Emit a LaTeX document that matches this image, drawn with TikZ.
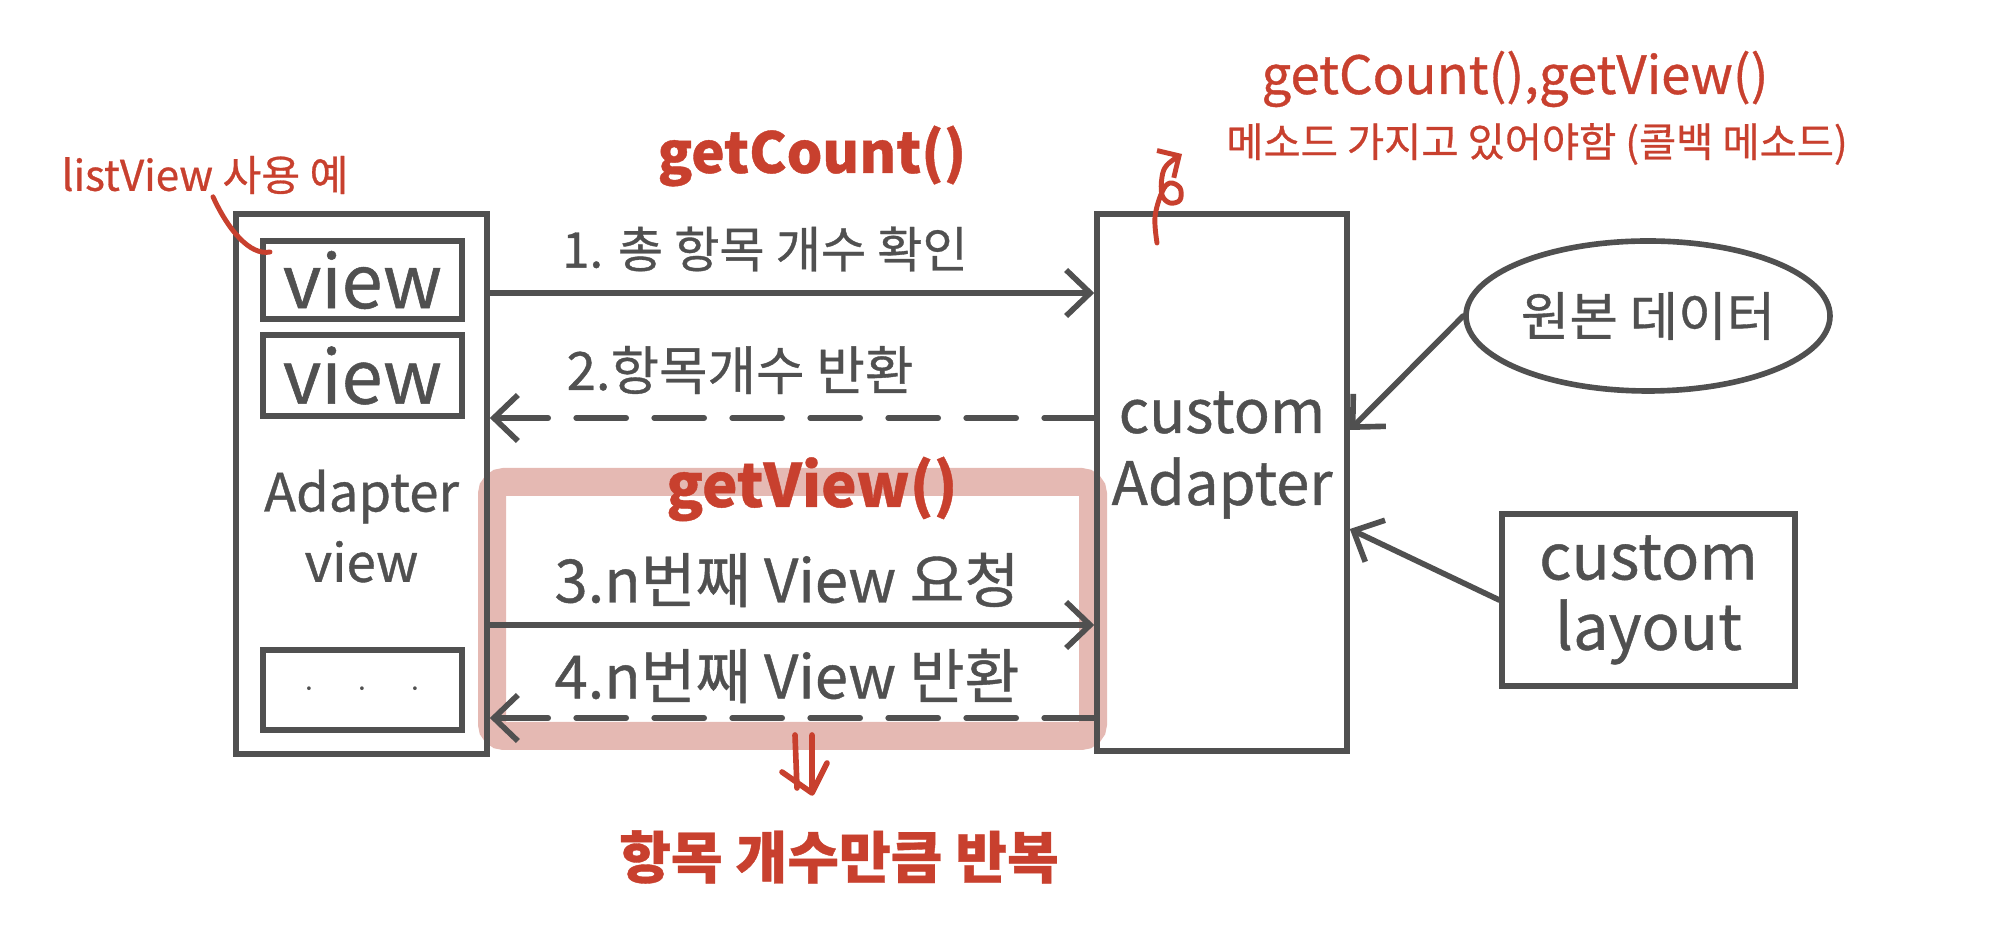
\documentclass[tikz,border=0pt]{standalone}
\usepackage{fontspec}
\setmainfont{Noto Sans CJK KR}[FakeBold=0.7]
\usetikzlibrary{arrows.meta,positioning,calc,shapes.geometric}
\definecolor{ink}{HTML}{505050}
\definecolor{pen}{HTML}{C8402E}
\definecolor{hlpink}{HTML}{E5B9B3}

\begin{document}
\begin{tikzpicture}[
    box/.style={rectangle, draw=ink, line width=1.6pt, inner sep=0pt, text=ink},
    txt/.style={text=ink, align=center, inner sep=0pt},
    memo/.style={text=pen, align=center, inner sep=0pt},
    arrow/.style={-{Straight Barb[length=2.4mm,width=4.6mm]}, draw=ink, line width=1.6pt, line cap=round},
    back/.style={arrow, dash pattern=on 5mm off 2.8mm},
    note/.style={draw=pen, line width=1.4pt, line cap=round, line join=round}
]
    \useasboundingbox (0,0) rectangle (20,-9.48);
    % repeated part
    \draw[hlpink, line width=0.28cm, rounded corners=0.12cm] (4.92,-4.82) rectangle (10.93,-7.36);

    % adapter view with its items
    \node[box, minimum width=2.51cm, minimum height=5.40cm] (adview) at (3.615,-4.84) {};
    \node[box, minimum width=1.99cm, minimum height=0.78cm, font=\fontsize{21}{24}\selectfont] (view1) at (3.625,-2.80) {view};
    \node[box, minimum width=1.99cm, minimum height=0.81cm, font=\fontsize{21}{24}\selectfont] (view2) at (3.625,-3.755) {view};
    \node[box, minimum width=1.99cm, minimum height=0.80cm] (more) at (3.625,-6.90) {$\cdot\quad\cdot\quad\cdot$};
    \node[txt, font=\fontsize{15}{20}\selectfont] (adlabel) at (3.615,-5.26) {Adapter\\view};

    % custom adapter and its sources
    \node[box, minimum width=2.50cm, minimum height=5.37cm] (adapter) at (12.22,-4.825) {};
    \node[txt, font=\fontsize{17}{20.5}\selectfont] (adtext) at (12.22,-4.55) {custom\\Adapter};
    \node[box, ellipse, minimum width=3.64cm, minimum height=1.50cm, font=\fontsize{15}{18}\selectfont] (data) at (16.48,-3.16) {원본 데이터};
    \node[box, minimum width=2.93cm, minimum height=1.72cm, align=center, font=\fontsize{18}{20}\selectfont] (layout) at (16.485,-6.00) {custom\\layout};

    % calls between the two
    \draw[arrow] (adview.east |- 0,-2.93) -- (adapter.west |- 0,-2.93);
    \draw[back] (adapter.west |- 0,-4.18) -- (adview.east |- 0,-4.18);
    \draw[arrow] (adview.east |- 0,-6.25) -- (adapter.west |- 0,-6.25);
    \draw[back] (adapter.west |- 0,-7.18) -- (adview.east |- 0,-7.18);
    \draw[arrow] (data.west) -- (adapter.east |- 0,-4.30);
    \draw[arrow] (layout.west) -- (adapter.east |- 0,-5.29);

    \node[memo, font=\bfseries\fontsize{16}{18}\selectfont] (count) at (8.12,-1.56) {getCount()};
    \node[txt, font=\fontsize{14}{16}\selectfont] (step1) at (7.65,-2.49) {1. 총 항목 개수 확인};
    \node[txt, font=\fontsize{15}{17}\selectfont] (step2) at (7.40,-3.70) {2.항목개수 반환};
    \node[memo, font=\bfseries\fontsize{17}{19}\selectfont] (getview) at (8.12,-4.89) {getView()};
    \node[txt, font=\fontsize{17}{19}\selectfont] (step3) at (7.87,-5.80) {3.n번째 View 요청};
    \node[txt, font=\fontsize{17}{19}\selectfont] (step4) at (7.87,-6.76) {4.n번째 View 반환};

    % notes
    \node[memo, font=\fontsize{12}{14}\selectfont] (lvnote) at (2.05,-1.75) {listView 사용 예};
    \coordinate (lvend) at (2.70,-2.52);
    \draw[note] ($(lvnote.south)+(0.08,-0.02)$) .. controls +(0.15,-0.33) and +(-0.2,-0.04) .. (lvend);

    \node[memo, font=\fontsize{15}{17}\selectfont] (cbnote) at (15.15,-0.79) {getCount(),getView()};
    \node[memo, font=\fontsize{11.5}{13}\selectfont] (cbnote2) at (15.37,-1.44) {메소드 가지고 있어야함 (콜백 메소드)};
    \draw[note, -{Straight Barb[length=1.6mm,width=3.2mm]}] plot[smooth, tension=0.6] coordinates {(11.57,-2.43) (11.55,-2.17) (11.62,-1.92) (11.70,-1.83) (11.80,-1.88) (11.80,-2.00) (11.70,-2.03) (11.62,-1.95) (11.62,-1.77) (11.67,-1.65) (11.82,-1.54)};

    \node[memo, font=\bfseries\fontsize{16}{18}\selectfont] (repeat) at (8.39,-8.57) {항목 개수만큼 반복};
    \draw[note, line width=1.6pt] (7.95,-7.35) -- (7.97,-7.88) (8.12,-7.35) -- (8.12,-7.90)
        (7.82,-7.72) -- (8.12,-7.93) -- (8.27,-7.63);
\end{tikzpicture}
\end{document}
